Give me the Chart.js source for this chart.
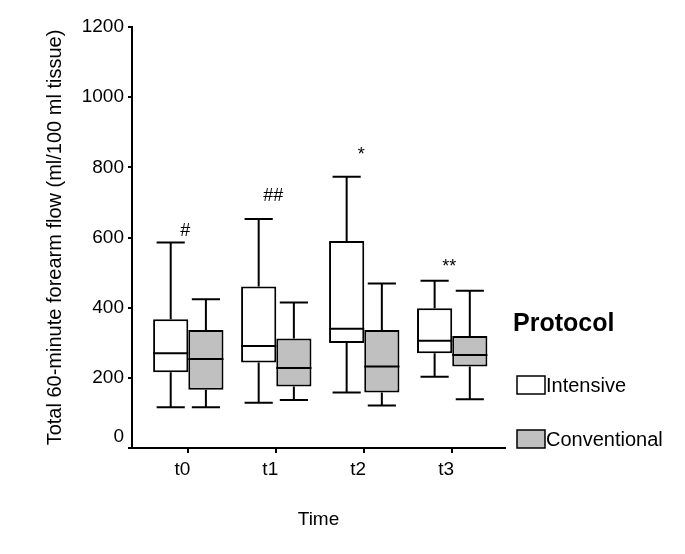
<!DOCTYPE html>
<html>
<head>
<meta charset="utf-8">
<script src="https://cdn.jsdelivr.net/npm/chart.js@4/dist/chart.umd.min.js"></script>
<style>
  html, body { margin: 0; padding: 0; background: #fff; }
  #wrap { width: 685px; height: 554px; position: relative; }
</style>
</head>
<body>
<div id="wrap"><canvas id="c" width="685" height="554"></canvas></div>
<script>
// ---- data ----
const categories = ['t0', 't1', 't2', 't3'];
const seriesNames = ['Intensive', 'Conventional'];
// [min, q1, median, q3, max] per time point
const intensiveMin = [116, 129, 158, 203];
const intensiveQ1 = [216, 244, 299, 270];
const intensiveMed = [270, 291, 340, 306];
const intensiveQ3 = [367, 460, 590, 398];
const intensiveMax = [586, 653, 773, 477];
const conventionalMin = [116, 137, 121, 139];
const conventionalQ1 = [166, 175, 158, 232];
const conventionalMed = [254, 228, 232, 265];
const conventionalQ3 = [336, 312, 336, 319];
const conventionalMax = [424, 415, 469, 448];
const yTicks = [0, 200, 400, 600, 800, 1000, 1200];
const markLabels = ['#', '##', '*', '**'];
const markValues = [618, 718, 835, 516];
const legendTitle = 'Protocol';
const xTitle = 'Time';
const yTitle = 'Total 60-minute forearm flow (ml/100 ml tissue)';

const FONT = "'Liberation Sans', Arial, sans-serif";
const NARROW = "'Liberation Sans Narrow', 'Arial Narrow', 'Liberation Sans', sans-serif";
const boxStats = [
  {min: intensiveMin, q1: intensiveQ1, med: intensiveMed, q3: intensiveQ3, max: intensiveMax},
  {min: conventionalMin, q1: conventionalQ1, med: conventionalMed, q3: conventionalQ3, max: conventionalMax}
];
const fills = ['#ffffff', '#c0c0c0'];

const datasets = boxStats.map((s, d) => ({
  label: seriesNames[d],
  data: categories.map((c, i) => ({x: i, y: [s.q1[i], s.q3[i]]})),
  backgroundColor: fills[d],
  borderColor: '#000',
  borderWidth: 2,
  borderSkipped: false,
  categoryPercentage: 0.8,
  barPercentage: 1.0
}));

const boxPlugin = {
  id: 'boxExtras',
  afterDatasetsDraw(chart) {
    const ctx = chart.ctx;
    const y = chart.scales.y;
    const x = chart.scales.x;
    ctx.save();
    ctx.strokeStyle = '#000';
    ctx.lineWidth = 2;
    boxStats.forEach((s, d) => {
      const meta = chart.getDatasetMeta(d);
      meta.data.forEach((bar, i) => {
        const cx = bar.x, w = bar.width;
        const half = w / 2;
        const cap = w * 0.4;
        const pMed = y.getPixelForValue(s.med[i]);
        const pQ1 = y.getPixelForValue(s.q1[i]);
        const pQ3 = y.getPixelForValue(s.q3[i]);
        const pMin = y.getPixelForValue(s.min[i]);
        const pMax = y.getPixelForValue(s.max[i]);
        ctx.beginPath();
        ctx.moveTo(cx - half, pMed); ctx.lineTo(cx + half, pMed);
        ctx.moveTo(cx, pQ3); ctx.lineTo(cx, pMax);
        ctx.moveTo(cx - cap, pMax); ctx.lineTo(cx + cap, pMax);
        ctx.moveTo(cx, pQ1); ctx.lineTo(cx, pMin);
        ctx.moveTo(cx - cap, pMin); ctx.lineTo(cx + cap, pMin);
        ctx.stroke();
      });
    });
    // significance marks
    ctx.fillStyle = '#000';
    ctx.font = '18px ' + FONT;
    ctx.textAlign = 'center';
    ctx.textBaseline = 'middle';
    markLabels.forEach((m, i) => {
      ctx.fillText(m, x.getPixelForValue(i) - 3, y.getPixelForValue(markValues[i]));
    });
    // zero label sits slightly above its tick, as in the original
    ctx.font = '19px ' + FONT;
    ctx.textAlign = 'right';
    ctx.fillText(String(yTicks[0]), y.right - 8, y.getPixelForValue(yTicks[0]) - 11);
    // legend
    ctx.textAlign = 'left';
    ctx.font = 'bold 25px ' + FONT;
    ctx.fillText(legendTitle, 513, 324);
    ctx.font = '20px ' + FONT;
    ctx.lineWidth = 1.5;
    const ly = [385, 439];
    seriesNames.forEach((n, d) => {
      ctx.fillStyle = fills[d];
      ctx.fillRect(517, ly[d] - 9, 28, 18);
      ctx.strokeRect(517, ly[d] - 9, 28, 18);
      ctx.fillStyle = '#000';
      ctx.fillText(n, 546, ly[d] + 1);
    });
    ctx.restore();
  }
};

new Chart(document.getElementById('c'), {
  type: 'bar',
  data: { datasets },
  plugins: [boxPlugin],
  options: {
    responsive: false,
    animation: false,
    layout: { padding: { top: 27, right: 180, bottom: 0, left: 0 } },
    plugins: { legend: { display: false }, tooltip: { enabled: false } },
    scales: {
      x: {
        type: 'linear',
        offset: false,
        min: -0.64,
        max: 3.6,
        afterBuildTicks(scale) { scale.ticks = categories.map((c, i) => ({value: i})); },
        afterFit(scale) { scale.height = 106; },
        ticks: {
          callback: (v) => categories[v] ?? '',
          color: '#000',
          font: { family: NARROW, size: 19 },
          padding: 5,
          labelOffset: -6,
          maxRotation: 0,
          autoSkip: false
        },
        grid: { display: true, offset: false, drawOnChartArea: false, tickLength: 5, color: '#000', lineWidth: 2 },
        border: { display: true, color: '#000', width: 2 },
        title: {
          display: true, text: xTitle, color: '#000',
          font: { family: FONT, size: 19 },
          padding: { top: 0, bottom: 23 }
        }
      },
      y: {
        min: 0,
        max: 1200,
        afterBuildTicks(scale) { scale.ticks = yTicks.map(v => ({value: v})); },
        afterFit(scale) { scale.width = 132; },
        ticks: {
          callback: (v) => (v === yTicks[0] ? '' : String(v)),
          color: '#000',
          font: { family: FONT, size: 19 },
          padding: 4
        },
        grid: { display: true, drawOnChartArea: false, tickLength: 4, color: '#000', lineWidth: 2 },
        border: { display: true, color: '#000', width: 2 },
        title: {
          display: true, text: yTitle, color: '#000',
          font: { family: FONT, size: 20 },
          padding: { top: 43, bottom: 0 }
        }
      }
    }
  }
});
</script>
</body>
</html>
